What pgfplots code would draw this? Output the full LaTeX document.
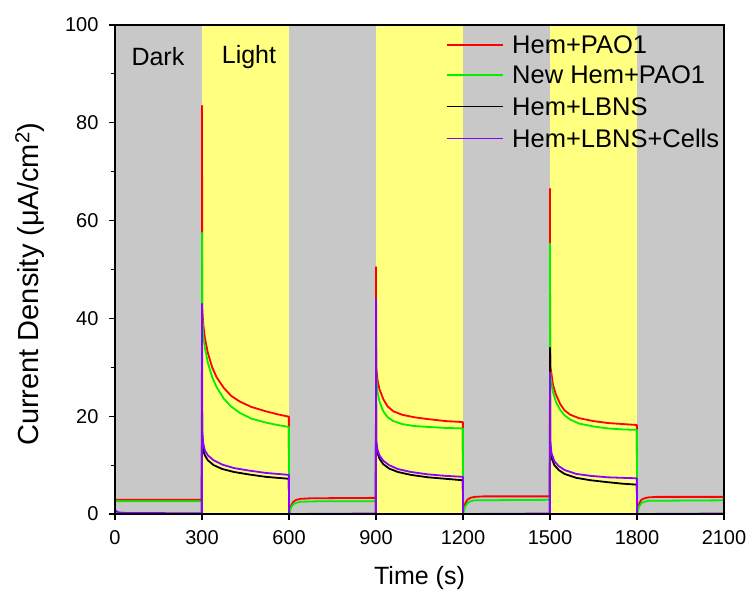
\documentclass[border=0pt]{standalone}
\usepackage{fontspec}
\setmainfont{Liberation Sans}
\usepackage{pgfplots}
\pgfplotsset{compat=1.18}
\definecolor{darkbg}{RGB}{200,200,200}
\definecolor{lightbg}{RGB}{255,255,128}
\definecolor{seriesred}{RGB}{255,0,0}
\definecolor{seriesgreen}{RGB}{0,240,0}
\definecolor{seriespurple}{RGB}{140,0,255}

\begin{document}
\begin{tikzpicture}
\begin{axis}[
    at={(0pt,0pt)}, anchor=south west,
    scale only axis,
    width=609pt, height=489pt,
    xmin=0, xmax=2100, ymin=0, ymax=100,
    xtick={0,300,...,2100},
    ytick={0,20,...,100},
    minor y tick num=1,
    tick pos=left,
    tick align=outside,
    major tick length=6pt,
    minor tick length=4pt,
    every tick/.style={black, line width=1.2pt},
    axis line style={line width=1.5pt},
    axis on top,
    /pgf/number format/assume math mode=true,
    /pgf/number format/1000 sep={},
    ticklabel style={font=\fontsize{20}{22}\selectfont},
    xticklabel style={yshift=-7pt},
    yticklabel style={xshift=-7pt},
    xlabel={Time (s)},
    ylabel={Current Density (μA/cm\textsuperscript{2})},
    xlabel style={font=\fontsize{25}{28}\selectfont,
                  at={(axis description cs:0.5,-0.131)}, anchor=center},
    ylabel style={font=\fontsize{29}{32}\selectfont,
                  at={(axis description cs:-0.14,0.47)}, anchor=center},
]
% background bands
\addplot[fill=darkbg, draw=none, forget plot] coordinates {(0,100)(300,100)} \closedcycle;
\addplot[fill=lightbg, draw=none, forget plot] coordinates {(300,100)(600,100)} \closedcycle;
\addplot[fill=darkbg, draw=none, forget plot] coordinates {(600,100)(900,100)} \closedcycle;
\addplot[fill=lightbg, draw=none, forget plot] coordinates {(900,100)(1200,100)} \closedcycle;
\addplot[fill=darkbg, draw=none, forget plot] coordinates {(1200,100)(1500,100)} \closedcycle;
\addplot[fill=lightbg, draw=none, forget plot] coordinates {(1500,100)(1800,100)} \closedcycle;
\addplot[fill=darkbg, draw=none, forget plot] coordinates {(1800,100)(2100,100)} \closedcycle;

% Hem+PAO1
\addplot[color=seriesred, line width=1.8pt, line join=round] coordinates {
(0,2.9)(299.5,2.9)
(300,83.5)(301,42)(304,39)(310,36)(320,33)(335,30)(350,28)(375,25.8)(400,24.2)(430,23)(470,21.9)(520,21)(560,20.4)(599.5,19.9)
(600,0)(603,0.8)(608,1.8)(615,2.5)(625,2.9)(640,3.1)(670,3.2)(750,3.25)(899.5,3.3)
(900,50.5)(901,30)(905,27.5)(912,25.5)(925,23.5)(940,22)(960,21)(990,20.3)(1030,19.8)(1080,19.4)(1140,19)(1199.5,18.8)
(1200,0)(1203,1)(1208,2.2)(1215,2.9)(1225,3.3)(1240,3.5)(1270,3.6)(1499.5,3.6)
(1500,66.5)(1500.5,35)(1502,30)(1510,26.5)(1520,24.5)(1535,22.5)(1550,21.2)(1570,20.3)(1600,19.6)(1650,19)(1700,18.6)(1750,18.4)(1799.5,18.2)
(1800,0)(1803,1)(1808,2.2)(1815,2.9)(1825,3.2)(1840,3.4)(1870,3.5)(2100,3.5)
};

% New Hem+PAO1
\addplot[color=seriesgreen, line width=1.8pt, line join=round] coordinates {
(0,2.6)(299.5,2.6)
(300,57.5)(301,40)(304,36.5)(310,34)(320,31)(335,28)(350,26)(375,23.6)(400,22)(430,20.7)(470,19.5)(520,18.7)(560,18.2)(599.5,17.8)
(600,0)(603,0.6)(608,1.4)(615,2.0)(625,2.3)(640,2.5)(700,2.6)(899.5,2.6)
(900,41.5)(901,28)(905,25)(912,23)(925,21)(940,19.8)(960,19)(990,18.4)(1030,18)(1080,17.8)(1140,17.6)(1199.5,17.5)
(1200,0)(1203,0.7)(1208,1.6)(1215,2.2)(1225,2.6)(1240,2.8)(1499.5,2.9)
(1500,55.3)(1500.5,30)(1502,28)(1510,25)(1520,23)(1535,21.3)(1550,20.2)(1570,19.3)(1600,18.5)(1650,17.9)(1700,17.5)(1750,17.3)(1799.5,17.2)
(1800,0)(1803,0.7)(1808,1.6)(1815,2.2)(1825,2.5)(1840,2.7)(2100,2.8)
};

% Hem+LBNS
\addplot[color=black, line width=1.8pt, line join=round] coordinates {
(0,0)(299.5,0)
(300,24)(301,14.5)(304,13)(310,12)(320,11)(340,10)(370,9.2)(410,8.6)(460,8.1)(520,7.6)(599.5,7.2)
(600,0)(899.5,0)
(900,27)(901,14)(905,12.5)(912,11.3)(925,10.2)(945,9.3)(975,8.6)(1020,8)(1080,7.5)(1140,7.2)(1199.5,6.9)
(1200,0)(1499.5,0)
(1500,34)(1501,13)(1505,11.5)(1515,10)(1530,9)(1550,8.2)(1590,7.4)(1640,6.9)(1700,6.5)(1750,6.2)(1799.5,6.0)
(1800,0)(2100,0)
};

% Hem+LBNS+Cells
\addplot[color=seriespurple, line width=1.8pt, line join=round] coordinates {
(0,0.9)(5,0.5)(15,0.3)(40,0.2)(299.5,0.15)
(300,43)(301,17)(304,14.5)(310,13)(320,12)(340,11)(370,10.1)(410,9.4)(460,8.9)(520,8.4)(599.5,8.0)
(600,0)(899.5,0.1)
(900,44)(901,15)(905,13.2)(912,12)(925,10.9)(945,10)(975,9.2)(1020,8.6)(1080,8.1)(1140,7.8)(1199.5,7.6)
(1200,0)(1499.5,0.1)
(1500,29)(1501,15)(1505,12.5)(1515,10.8)(1530,9.8)(1550,9)(1590,8.2)(1640,7.8)(1700,7.5)(1750,7.4)(1799.5,7.3)
(1800,0)(2100,0.1)
};

% legend keys and entries
\addplot[color=seriesred, line width=1.3pt] coordinates {(1145,95.9)(1338,95.9)};
\addplot[color=seriesgreen, line width=1.3pt] coordinates {(1145,89.8)(1338,89.8)};
\addplot[color=black, line width=1.3pt] coordinates {(1145,83.3)(1338,83.3)};
\addplot[color=seriespurple, line width=1.3pt] coordinates {(1145,76.8)(1338,76.8)};
\begin{scope}[every node/.style={anchor=west, inner sep=0pt, font=\fontsize{25.5}{28}\selectfont}]
\node at (axis cs:1369,95.9) {Hem+PAO1};
\node at (axis cs:1369,89.8) {New Hem+PAO1};
\node at (axis cs:1369,83.3) {Hem+LBNS};
\node at (axis cs:1369,76.8) {Hem+LBNS+Cells};
\end{scope}

\node[font=\fontsize{25}{28}\selectfont] at (axis cs:148,93.5) {Dark};
\node[font=\fontsize{25}{28}\selectfont] at (axis cs:462,93.5) {Light};
\end{axis}
\pgfresetboundingbox
\path[use as bounding box] (-115pt,-76pt) rectangle (633pt,514pt);
\end{tikzpicture}
\end{document}
